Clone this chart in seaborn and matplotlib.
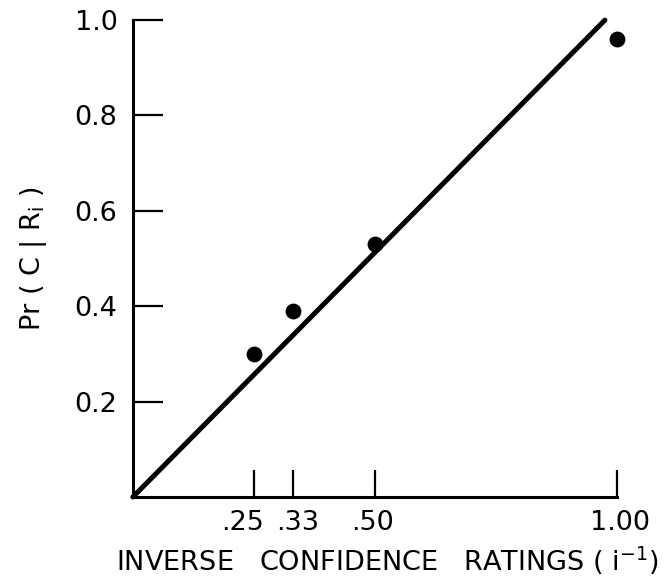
"""Proportion correct vs inverse confidence rating."""
import matplotlib
matplotlib.use('Agg')
import matplotlib.pyplot as plt
import matplotlib.transforms as mtransforms
import pandas as pd
import seaborn as sns

# observed points
inv_conf = [0.25, 0.33, 0.50, 1.00]
pr_correct = [0.30, 0.39, 0.53, 0.96]

# fitted line
line_x = [0.0, 0.975]
line_y = [0.0, 1.0]

xticks = [0.25, 0.33, 0.50, 1.00]
xtick_labels = ['.25', '.33', '.50', '1.00']
yticks = [0.2, 0.4, 0.6, 0.8, 1.0]
ytick_labels = ['0.2', '0.4', '0.6', '0.8', '1.0']

sns.set_style('ticks')
plt.rcParams['font.family'] = ['DejaVu Sans']
plt.rcParams['text.color'] = 'black'
plt.rcParams['axes.labelcolor'] = 'black'

fig = plt.figure(figsize=(6.71, 5.83), dpi=100)
ax = fig.add_axes([0.198, 0.1475, 0.7215, 0.818])

pts = pd.DataFrame({'x': inv_conf, 'y': pr_correct})
fit = pd.DataFrame({'x': line_x, 'y': line_y})

sns.lineplot(data=fit, x='x', y='y', color='black', linewidth=3.6,
             solid_capstyle='round', ax=ax, clip_on=False)
sns.scatterplot(data=pts, x='x', y='y', color='black', s=130,
                edgecolor='black', linewidth=0, ax=ax, clip_on=False,
                zorder=5)

ax.set_xlim(0, 1.0)
ax.set_ylim(0, 1.0)
sns.despine(ax=ax)
for side in ['left', 'bottom']:
    ax.spines[side].set_linewidth(2.2)
    ax.spines[side].set_color('black')

ax.set_xticks(xticks)
ax.set_xticklabels(xtick_labels)
ax.set_yticks(yticks)
ax.set_yticklabels(ytick_labels)
ax.tick_params(axis='x', direction='in', length=19.5, width=1.6,
               pad=9, labelsize=19.5, colors='black')
ax.tick_params(axis='y', direction='in', length=21.5, width=1.6,
               pad=11, labelsize=19.5, colors='black')

# hand-lettered labels sit a little off their ticks
shifts = [-11, 5, -2, 3]
for lab, dx in zip(ax.get_xticklabels(), shifts):
    lab.set_transform(lab.get_transform() +
                      mtransforms.ScaledTranslation(dx / 100, 0,
                                                    fig.dpi_scale_trans))

ax.set_xlabel(r'INVERSE   CONFIDENCE   RATINGS ( i$^{-1}$)', fontsize=19.5)
ax.xaxis.set_label_coords(0.525, -0.10)
ax.set_ylabel(r'Pr ( C | R$_{\rm i}$ )', fontsize=19.5)
ax.yaxis.set_label_coords(-0.173, 0.5)

fig.savefig('out.png', dpi=100)
